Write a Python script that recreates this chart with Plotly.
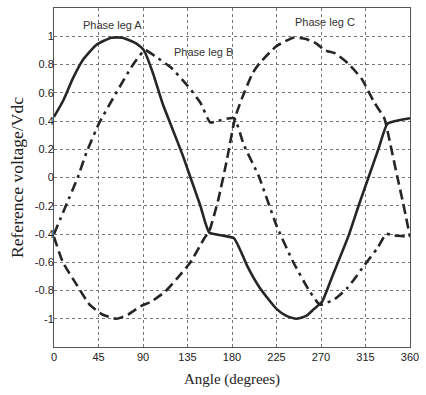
import plotly.graph_objects as go

# Reference voltage waveforms (normalised to Vdc) over one fundamental period
angle_a = [0, 9, 19, 29, 43, 58, 69, 83, 91, 100, 110, 120, 130, 138, 148, 157,
           170, 182, 190, 195, 208, 225, 235, 245, 255, 263, 271, 282, 298, 308,
           318, 328, 337, 345, 360]
phase_a = [0.43, 0.54, 0.70, 0.83, 0.94, 0.99, 0.99, 0.95, 0.90, 0.74, 0.52, 0.34,
           0.16, 0.00, -0.20, -0.39, -0.41, -0.43, -0.54, -0.62, -0.78, -0.93,
           -0.98, -1.00, -0.98, -0.93, -0.88, -0.69, -0.41, -0.20, 0.00, 0.20,
           0.38, 0.40, 0.42]

angle_b = [0, 6, 12, 24, 33, 46, 63, 79, 90, 93, 102, 118, 135, 148, 158, 165,
           182, 192, 207, 225, 242, 258, 269, 284, 297, 314, 327, 336, 344, 360]
phase_b = [-0.40, -0.30, -0.20, 0.00, 0.18, 0.39, 0.60, 0.79, 0.89, 0.90, 0.86,
           0.78, 0.65, 0.53, 0.39, 0.40, 0.42, 0.23, 0.01, -0.34, -0.60, -0.80,
           -0.90, -0.86, -0.78, -0.62, -0.50, -0.40, -0.41, -0.42]

angle_c = [0, 9, 23, 36, 49, 63, 75, 88, 98, 112, 125, 138, 152, 157, 166, 175,
           183, 190, 201, 208, 225, 242, 255, 265, 274, 284, 297, 311, 324, 334,
           340, 347, 353, 360]
phase_c = [-0.42, -0.60, -0.76, -0.90, -0.97, -1.00, -0.97, -0.91, -0.88, -0.81,
           -0.71, -0.60, -0.43, -0.38, -0.16, 0.13, 0.42, 0.56, 0.74, 0.81, 0.93,
           0.99, 0.98, 0.95, 0.90, 0.88, 0.81, 0.70, 0.53, 0.42, 0.24, 0.01,
           -0.18, -0.42]

x_ticks = [0, 45, 90, 135, 180, 225, 270, 315, 360]
y_ticks = [-1, -0.8, -0.6, -0.4, -0.2, 0, 0.2, 0.4, 0.6, 0.8, 1]
y_tick_text = ["-1", "-0.8", "-0.6", "-0.4", "-0.2", "0", "0.2", "0.4", "0.6", "0.8", "1"]

labels = ["Phase leg A", "Phase leg B", "Phase leg C"]
label_x = [58.7, 151, 274.5]
label_y = [1.08, 0.89, 1.10]

line_color = "#262626"
smooth_line = dict(color=line_color, width=2.6, shape="spline", smoothing=0.5)

fig = go.Figure()
fig.add_trace(go.Scatter(x=angle_a, y=phase_a, mode="lines", line=smooth_line))
fig.add_trace(go.Scatter(x=angle_b, y=phase_b, mode="lines",
                         line=dict(smooth_line, dash="10px,5px,3px,5px")))
fig.add_trace(go.Scatter(x=angle_c, y=phase_c, mode="lines",
                         line=dict(smooth_line, dash="10px,5px")))

for text, xv, yv in zip(labels, label_x, label_y):
    fig.add_annotation(x=xv, y=yv, text=text, showarrow=False,
                       font=dict(family="Liberation Sans", size=11, color="#333"))

axis_common = dict(
    showline=True, linecolor="#555", linewidth=1, mirror=True,
    showgrid=True, gridcolor="#777", gridwidth=1, griddash="3px,3px",
    zeroline=False, ticks="",
    tickfont=dict(family="Liberation Sans", size=11, color="#222"),
)

fig.update_xaxes(range=[0, 360], tickvals=x_ticks, ticktext=[str(t) for t in x_ticks],
                 title=dict(text="Angle (degrees)", standoff=11,
                            font=dict(family="Liberation Serif", size=15, color="#222")),
                 **axis_common)
fig.update_yaxes(range=[-1.2, 1.2], tickvals=y_ticks, ticktext=y_tick_text,
                 ticklabelstandoff=-3,
                 title=dict(text="Reference voltage/Vdc", standoff=6,
                            font=dict(family="Liberation Serif", size=17.5, color="#222")),
                 **axis_common)

fig.update_layout(
    width=426, height=395,
    margin=dict(l=54, r=10, t=7, b=48),
    paper_bgcolor="white", plot_bgcolor="white",
    showlegend=False,
)

fig.write_html("out.html")
